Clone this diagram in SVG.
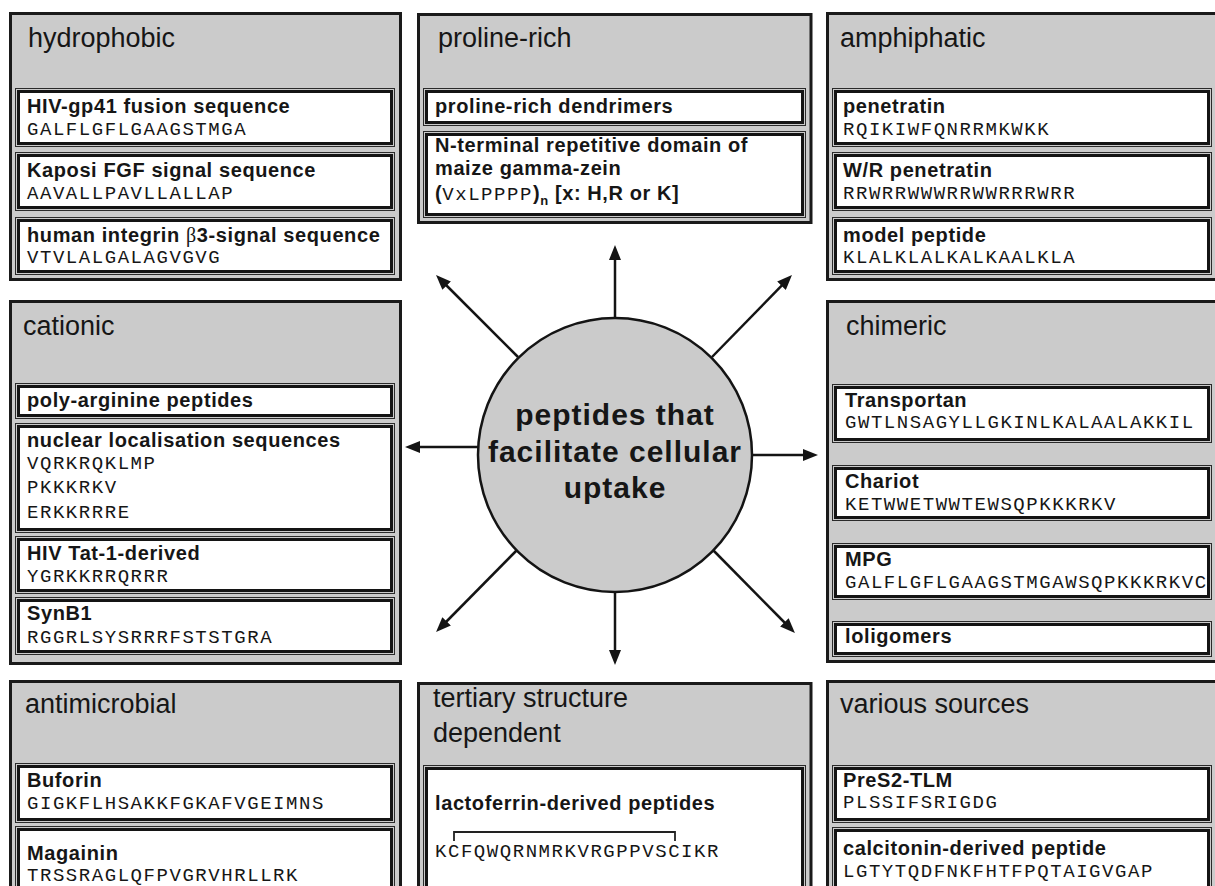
<svg xmlns="http://www.w3.org/2000/svg" width="1215" height="886" viewBox="0 0 1215 886">
<style>
.pnl{fill:#cbcbcb;stroke:#1a1a1a;stroke-width:3}
.bo{fill:none;stroke:#2a2a2a;stroke-width:1}
.bi{fill:#fff;stroke:#141414;stroke-width:3}
.ttl{font-family:"Liberation Sans",Arial,sans-serif;font-size:27px;fill:#161616}
.lbl{font-family:"Liberation Sans",Arial,sans-serif;font-size:20px;font-weight:bold;letter-spacing:0.6px;fill:#161616}
.seq{font-family:"Liberation Mono","Courier New",monospace;font-size:19px;letter-spacing:1.55px;fill:#161616}
.hub{fill:#cbcbcb;stroke:#141414;stroke-width:2.5}
.hubt{font-family:"Liberation Sans",Arial,sans-serif;font-size:30px;font-weight:bold;letter-spacing:1px;fill:#161616;text-anchor:middle}
.arr{stroke:#141414;stroke-width:2.5;fill:none;marker-end:url(#ah)}
.brk{stroke:#222;stroke-width:1.8;fill:none}
</style>
<defs>
<marker id="ah" markerUnits="userSpaceOnUse" markerWidth="15" markerHeight="12" viewBox="0 0 15 12" refX="3" refY="6" orient="auto">
<path d="M0,0 L15,6 L0,12 z" fill="#141414"/>
</marker>
</defs>
<rect width="1215" height="886" fill="#fff"/>

<g id="connectors">
<line class="arr" x1="615" y1="318" x2="615" y2="257"/>
<line class="arr" x1="615" y1="592" x2="615" y2="653"/>
<line class="arr" x1="479" y1="447" x2="417" y2="447"/>
<line class="arr" x1="752" y1="455" x2="806" y2="455"/>
<line class="arr" x1="518" y1="357" x2="444.5" y2="283.5"/>
<line class="arr" x1="712" y1="357" x2="783.6" y2="283.6"/>
<line class="arr" x1="518" y1="549" x2="444.5" y2="623.5"/>
<line class="arr" x1="712" y1="549" x2="786.5" y2="624.5"/>
</g>

<g id="hub">
<circle class="hub" cx="615" cy="455" r="137"/>
<text class="hubt" x="615" y="425">peptides that</text>
<text class="hubt" x="615" y="462">facilitate cellular</text>
<text class="hubt" x="615" y="498">uptake</text>
</g>

<g id="panel-hydrophobic">
<rect class="pnl" x="10.5" y="13.5" width="390" height="266"/>
<text class="ttl" x="28" y="47">hydrophobic</text>
<rect class="bo" x="15.5" y="88.5" width="379" height="58"/>
<rect class="bi" x="18.5" y="91.5" width="373" height="52"/>
<text class="lbl" x="27" y="113">HIV-gp41 fusion sequence</text>
<text class="seq" x="27" y="135">GALFLGFLGAAGSTMGA</text>
<rect class="bo" x="15.5" y="152.5" width="379" height="58"/>
<rect class="bi" x="18.5" y="155.5" width="373" height="52"/>
<text class="lbl" x="27" y="177">Kaposi FGF signal sequence</text>
<text class="seq" x="27" y="199">AAVALLPAVLLALLAP</text>
<rect class="bo" x="15.5" y="217.5" width="379" height="57"/>
<rect class="bi" x="18.5" y="220.5" width="373" height="51"/>
<text class="lbl" x="27" y="242">human integrin <tspan font-family="'Liberation Serif',serif" font-weight="normal">β</tspan>3-signal sequence</text>
<text class="seq" x="27" y="263">VTVLALGALAGVGVG</text>
</g>

<g id="panel-proline-rich">
<rect class="pnl" x="418.5" y="14.5" width="392.5" height="208"/>
<text class="ttl" x="438" y="47">proline-rich</text>
<rect class="bo" x="423.5" y="88.5" width="382" height="37"/>
<rect class="bi" x="426.5" y="91.5" width="376" height="31"/>
<text class="lbl" x="435" y="113">proline-rich dendrimers</text>
<rect class="bo" x="423.5" y="131.5" width="382" height="86"/>
<rect class="bi" x="426.5" y="134.5" width="376" height="80"/>
<text class="lbl" x="435" y="152">N-terminal repetitive domain of</text>
<text class="lbl" x="435" y="175">maize gamma-zein</text>
<text class="lbl" x="435" y="200">(<tspan class="seq" font-weight="normal" letter-spacing="0.8px">VxLPPPP</tspan>)<tspan font-size="13px" dy="5">n</tspan><tspan dy="-5"> [x: H,R or K]</tspan></text>
</g>

<g id="panel-amphiphatic">
<rect class="pnl" x="827.5" y="13.5" width="390" height="266"/>
<text class="ttl" x="840" y="47">amphiphatic</text>
<rect class="bo" x="832.5" y="88.5" width="379" height="58"/>
<rect class="bi" x="835.5" y="91.5" width="373" height="52"/>
<text class="lbl" x="843" y="113">penetratin</text>
<text class="seq" x="843" y="135">RQIKIWFQNRRMKWKK</text>
<rect class="bo" x="832.5" y="152.5" width="379" height="58"/>
<rect class="bi" x="835.5" y="155.5" width="373" height="52"/>
<text class="lbl" x="843" y="177">W/R penetratin</text>
<text class="seq" x="843" y="199">RRWRRWWWRRWWRRRWRR</text>
<rect class="bo" x="832.5" y="217.5" width="379" height="57"/>
<rect class="bi" x="835.5" y="220.5" width="373" height="51"/>
<text class="lbl" x="843" y="242">model peptide</text>
<text class="seq" x="843" y="263">KLALKLALKALKAALKLA</text>
</g>

<g id="panel-cationic">
<rect class="pnl" x="10.5" y="301.5" width="390" height="362"/>
<text class="ttl" x="23" y="335">cationic</text>
<rect class="bo" x="15.5" y="383.5" width="379" height="35"/>
<rect class="bi" x="18.5" y="386.5" width="373" height="29"/>
<text class="lbl" x="27" y="407">poly-arginine peptides</text>
<rect class="bo" x="15.5" y="423.5" width="379" height="109"/>
<rect class="bi" x="18.5" y="426.5" width="373" height="103"/>
<text class="lbl" x="27" y="447">nuclear localisation sequences</text>
<text class="seq" x="27" y="469">VQRKRQKLMP</text>
<text class="seq" x="27" y="493">PKKKRKV</text>
<text class="seq" x="27" y="518">ERKKRRRE</text>
<rect class="bo" x="15.5" y="536.5" width="379" height="57"/>
<rect class="bi" x="18.5" y="539.5" width="373" height="51"/>
<text class="lbl" x="27" y="560">HIV Tat-1-derived</text>
<text class="seq" x="27" y="582">YGRKKRRQRRR</text>
<rect class="bo" x="15.5" y="597.5" width="379" height="57"/>
<rect class="bi" x="18.5" y="600.5" width="373" height="51"/>
<text class="lbl" x="27" y="620">SynB1</text>
<text class="seq" x="27" y="643">RGGRLSYSRRRFSTSTGRA</text>
</g>

<g id="panel-chimeric">
<rect class="pnl" x="827.5" y="301.5" width="390" height="360"/>
<text class="ttl" x="846" y="335">chimeric</text>
<rect class="bo" x="832.5" y="384.5" width="379" height="58"/>
<rect class="bi" x="835.5" y="387.5" width="373" height="52"/>
<text class="lbl" x="845" y="407">Transportan</text>
<text class="seq" x="845" y="428">GWTLNSAGYLLGKINLKALAALAKKIL</text>
<rect class="bo" x="832.5" y="465.5" width="379" height="55"/>
<rect class="bi" x="835.5" y="468.5" width="373" height="49"/>
<text class="lbl" x="845" y="488">Chariot</text>
<text class="seq" x="845" y="510">KETWWETWWTEWSQPKKKRKV</text>
<rect class="bo" x="832.5" y="543.5" width="379" height="56"/>
<rect class="bi" x="835.5" y="546.5" width="373" height="50"/>
<text class="lbl" x="845" y="566">MPG</text>
<text class="seq" x="845" y="588">GALFLGFLGAAGSTMGAWSQPKKKRKVC</text>
<rect class="bo" x="832.5" y="621.5" width="379" height="35"/>
<rect class="bi" x="835.5" y="624.5" width="373" height="29"/>
<text class="lbl" x="845" y="643">loligomers</text>
</g>

<g id="panel-antimicrobial">
<rect class="pnl" x="10.5" y="681.5" width="390" height="230"/>
<text class="ttl" x="25" y="713">antimicrobial</text>
<rect class="bo" x="15.5" y="763.5" width="379" height="59"/>
<rect class="bi" x="18.5" y="766.5" width="373" height="53"/>
<text class="lbl" x="27" y="787">Buforin</text>
<text class="seq" x="27" y="809">GIGKFLHSAKKFGKAFVGEIMNS</text>
<rect class="bo" x="15.5" y="826.5" width="379" height="80"/>
<rect class="bi" x="18.5" y="829.5" width="373" height="74"/>
<text class="lbl" x="27" y="860">Magainin</text>
<text class="seq" x="27" y="881">TRSSRAGLQFPVGRVHRLLRK</text>
</g>

<g id="panel-tertiary">
<rect class="pnl" x="418.5" y="683.5" width="392.5" height="230"/>
<text class="ttl" x="433" y="707">tertiary structure</text>
<text class="ttl" x="433" y="742">dependent</text>
<rect class="bo" x="423.5" y="765.5" width="382" height="140"/>
<rect class="bi" x="426.5" y="768.5" width="376" height="134"/>
<text class="lbl" x="435" y="810">lactoferrin-derived peptides</text>
<path class="brk" d="M454,841 V832 H675 V841"/>
<text class="seq" x="435" y="857">KCFQWQRNMRKVRGPPVSCIKR</text>
</g>

<g id="panel-various">
<rect class="pnl" x="827.5" y="681.5" width="390" height="230"/>
<text class="ttl" x="840" y="713">various sources</text>
<rect class="bo" x="832.5" y="765.5" width="379" height="57"/>
<rect class="bi" x="835.5" y="768.5" width="373" height="51"/>
<text class="lbl" x="843" y="787">PreS2-TLM</text>
<text class="seq" x="843" y="808">PLSSIFSRIGDG</text>
<rect class="bo" x="832.5" y="827.5" width="379" height="80"/>
<rect class="bi" x="835.5" y="830.5" width="373" height="74"/>
<text class="lbl" x="843" y="855">calcitonin-derived peptide</text>
<text class="seq" x="843" y="877">LGTYTQDFNKFHTFPQTAIGVGAP</text>
</g>
</svg>
